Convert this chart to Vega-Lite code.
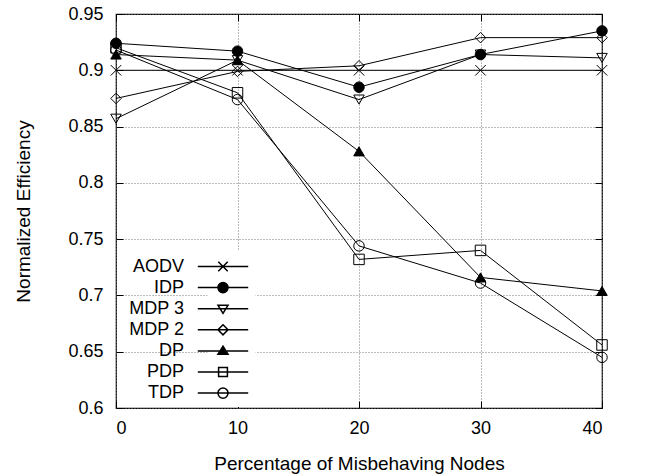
{
  "$schema": "https://vega.github.io/schema/vega-lite/v6.json",
  "width": 486,
  "height": 394,
  "autosize": "none",
  "padding": {"left": 116, "top": 14, "right": 45, "bottom": 67},
  "background": "white",
  "config": {
    "font": "Liberation Sans",
    "view": {"stroke": "black", "strokeWidth": 1.2},
    "axis": {"labelColor": "black", "titleColor": "black", "titleFontWeight": "normal", "tickColor": "black"}
  },
  "data": {
    "values": [
      {"x": 0, "y": 0.9, "s": "AODV"}, {"x": 10, "y": 0.9, "s": "AODV"}, {"x": 20, "y": 0.9, "s": "AODV"}, {"x": 30, "y": 0.9, "s": "AODV"}, {"x": 40, "y": 0.9, "s": "AODV"},
      {"x": 0, "y": 0.924, "s": "IDP"}, {"x": 10, "y": 0.917, "s": "IDP"}, {"x": 20, "y": 0.885, "s": "IDP"}, {"x": 30, "y": 0.914, "s": "IDP"}, {"x": 40, "y": 0.935, "s": "IDP"},
      {"x": 0, "y": 0.857, "s": "MDP 3"}, {"x": 10, "y": 0.909, "s": "MDP 3"}, {"x": 20, "y": 0.874, "s": "MDP 3"}, {"x": 30, "y": 0.914, "s": "MDP 3"}, {"x": 40, "y": 0.911, "s": "MDP 3"},
      {"x": 0, "y": 0.875, "s": "MDP 2"}, {"x": 10, "y": 0.899, "s": "MDP 2"}, {"x": 20, "y": 0.904, "s": "MDP 2"}, {"x": 30, "y": 0.929, "s": "MDP 2"}, {"x": 40, "y": 0.929, "s": "MDP 2"},
      {"x": 0, "y": 0.914, "s": "DP"}, {"x": 10, "y": 0.909, "s": "DP"}, {"x": 20, "y": 0.828, "s": "DP"}, {"x": 30, "y": 0.716, "s": "DP"}, {"x": 40, "y": 0.704, "s": "DP"},
      {"x": 0, "y": 0.92, "s": "PDP"}, {"x": 10, "y": 0.88, "s": "PDP"}, {"x": 20, "y": 0.732, "s": "PDP"}, {"x": 30, "y": 0.74, "s": "PDP"}, {"x": 40, "y": 0.656, "s": "PDP"},
      {"x": 0, "y": 0.918, "s": "TDP"}, {"x": 10, "y": 0.874, "s": "TDP"}, {"x": 20, "y": 0.744, "s": "TDP"}, {"x": 30, "y": 0.711, "s": "TDP"}, {"x": 40, "y": 0.645, "s": "TDP"}
    ]
  },
  "resolve": {"axis": {"x": "independent", "y": "independent"}, "scale": {"shape": "independent"}, "legend": {"shape": "independent"}},
  "layer": [
    {
      "mark": {"type": "line", "color": "black", "strokeWidth": 1},
      "encoding": {
        "x": {"field": "x", "type": "quantitative", "scale": {"domain": [0, 40], "nice": false, "zero": false},
          "axis": {"orient": "top", "values": [0, 10, 20, 30, 40], "labels": false, "title": null, "grid": false, "domain": false, "tickSize": -7}},
        "y": {"field": "y", "type": "quantitative", "scale": {"domain": [0.6, 0.95], "nice": false, "zero": false},
          "axis": {"orient": "right", "values": [0.6, 0.65, 0.7, 0.75, 0.8, 0.85, 0.9, 0.95], "labels": false, "title": null, "grid": false, "domain": false, "tickSize": -7}},
        "detail": {"field": "s", "type": "nominal"}
      }
    },
    {
      "mark": {"type": "point", "stroke": "black", "strokeWidth": 1, "opacity": 1, "size": 110, "filled": false},
      "encoding": {
        "x": {"field": "x", "type": "quantitative", "scale": {"domain": [0, 40], "nice": false, "zero": false},
          "axis": {"orient": "bottom", "values": [0, 10, 20, 30, 40], "grid": true, "gridDash": [1, 2], "gridColor": "#777", "gridOpacity": 1, "domain": false, "tickSize": -7,
            "labelFontSize": 18, "labelPadding": 18, "title": "Percentage of Misbehaving Nodes", "titleFontSize": 19, "titlePadding": 17}},
        "y": {"field": "y", "type": "quantitative", "scale": {"domain": [0.6, 0.95], "nice": false, "zero": false},
          "axis": {"orient": "left", "values": [0.6, 0.65, 0.7, 0.75, 0.8, 0.85, 0.9, 0.95], "format": "~g", "grid": true, "gridDash": [1, 2], "gridColor": "#777", "gridOpacity": 1, "domain": false, "tickSize": -7,
            "labelFontSize": 18, "labelPadding": 20, "title": "Normalized Efficiency", "titleFontSize": 19, "titlePadding": 34}},
        "shape": {"field": "s", "type": "nominal", "legend": null,
          "scale": {"domain": ["AODV", "IDP", "MDP 3", "MDP 2", "DP", "PDP", "TDP"],
            "range": ["M-1,-1L1,1M-1,1L1,-1", "circle", "triangle-down", "diamond", "triangle-up", "square", "circle"]}},
        "fill": {"field": "s", "type": "nominal", "legend": null,
          "scale": {"domain": ["AODV", "IDP", "MDP 3", "MDP 2", "DP", "PDP", "TDP"],
            "range": ["transparent", "black", "transparent", "transparent", "black", "transparent", "transparent"]}}
      }
    },
    {
      "transform": [{"filter": "false"}],
      "mark": {"type": "point", "stroke": "black", "fill": "black", "filled": false, "strokeWidth": 1, "opacity": 1, "size": 441},
      "encoding": {
        "x": {"field": "x", "type": "quantitative", "axis": null},
        "y": {"field": "y", "type": "quantitative", "axis": null},
        "shape": {"field": "s", "type": "nominal",
          "scale": {"domain": ["AODV", "IDP", "MDP 3", "MDP 2", "DP", "PDP", "TDP"],
            "range": [
              "M-2.4,0H2.4M-0.45,-0.45L0.45,0.45M-0.45,0.45L0.45,-0.45",
              "M-2.4,0H2.4M0.48,0A0.48,0.48,0,1,1,-0.48,0A0.48,0.48,0,1,1,0.48,0Z",
              "M-2.4,0H2.4M0,0.45L0.48,-0.33L-0.48,-0.33ZM0,0.45L-0.48,-0.33L0.48,-0.33Z",
              "M-2.4,0H2.4M0,-0.48L0.48,0L0,0.48L-0.48,0ZM0,-0.48L-0.48,0L0,0.48L0.48,0Z",
              "M-2.4,0H2.4M0,-0.45L0.48,0.33L-0.48,0.33Z",
              "M-2.4,0H2.4M-0.42,-0.42H0.42V0.42H-0.42ZM-0.42,-0.42V0.42H0.42V-0.42Z",
              "M-2.4,0H2.4M0.48,0A0.48,0.48,0,1,1,-0.48,0A0.48,0.48,0,1,1,0.48,0ZM0.48,0A0.48,0.48,0,1,0,-0.48,0A0.48,0.48,0,1,0,0.48,0Z"
            ]},
          "legend": {
            "orient": "none", "legendX": 91.5, "legendY": 237, "title": null,
            "labelAlign": "right", "labelOffset": -50.5, "labelFontSize": 18, "labelColor": "black",
            "symbolSize": 441, "rowPadding": 0.1, "fillColor": "white", "padding": 4
          }
        }
      }
    }
  ]
}
